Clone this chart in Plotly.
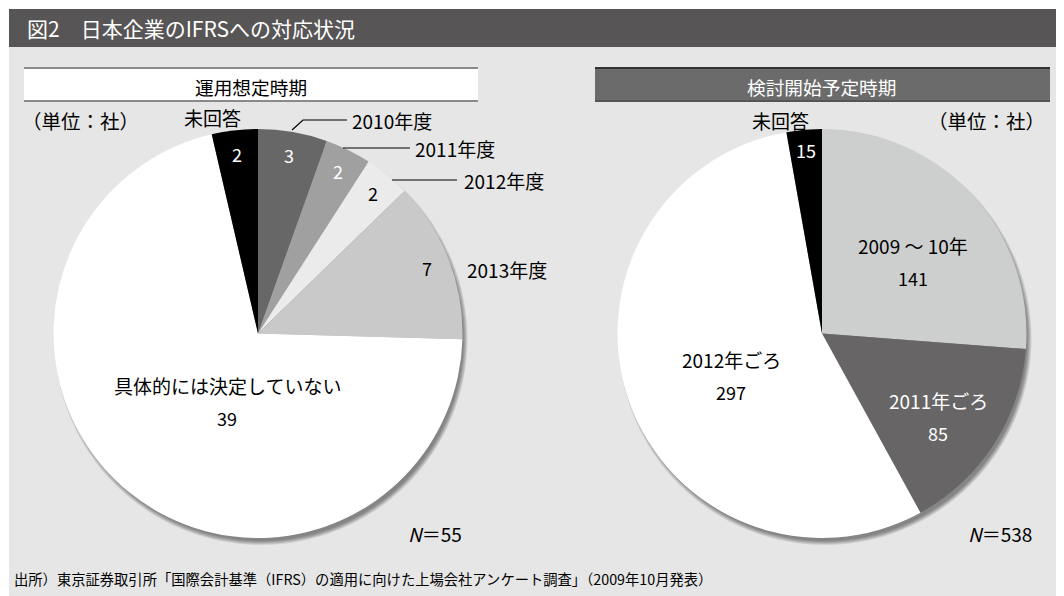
import math
import plotly.graph_objects as go

# the page body keeps its 8px margin, so the figure is drawn 8px in from the top-left
OFF = 8
W, H = 1064 - OFF, 596 - OFF
FONT = "Noto Sans CJK JP"

# data
labels_l = ["2010年度", "2011年度", "2012年度", "2013年度", "具体的には決定していない", "未回答"]
values_l = [3, 2, 2, 7, 39, 2]
colors_l = ["#676767", "#a0a0a0", "#ebebeb", "#c8c9c8", "#ffffff", "#000000"]
textcol_l = ["white", "white", "black", "black", "black", "white"]

labels_r = ["2009 〜 10年", "2011年ごろ", "2012年ごろ", "未回答"]
values_r = [141, 85, 297, 15]
colors_r = ["#cdcfce", "#676566", "#ffffff", "#000000"]
textcol_r = ["black", "white", "black", "white"]

title = "図2　日本企業のIFRSへの対応状況"
sub_l = "運用想定時期"
sub_r = "検討開始予定時期"
unit = "（単位：社）"
source = "出所）東京証券取引所「国際会計基準（IFRS）の適用に向けた上場会社アンケート調査」（2009年10月発表）"


def px(x):
    return (x - OFF) / W


def py(y):
    return 1 - (y - OFF) / H


def domain(cx, cy, r):
    return dict(x=[px(cx - r), px(cx + r)], y=[py(cy + r), py(cy - r)])


def slice_pos(values, i, cx, cy, r, rf):
    total = sum(values)
    a = 2 * math.pi * (sum(values[:i]) + values[i] / 2) / total
    return cx + rf * r * math.sin(a), cy - rf * r * math.cos(a)


def txt(fig, x, y, text, size=19, color="black", xanchor="center"):
    fig.add_annotation(x=px(x), y=py(y), xref="paper", yref="paper", text=text,
                       showarrow=False, xanchor=xanchor, yanchor="middle",
                       font=dict(family=FONT, size=size, color=color))


def rect(fig, x0, y0, x1, y1, fill, layer="below"):
    fig.add_shape(type="rect", xref="paper", yref="paper",
                  x0=px(x0), y0=py(y1), x1=px(x1), y1=py(y0), fillcolor=fill,
                  line=dict(width=0), layer=layer)


def shadow(fig, cx, cy, r):
    # soft drop shadow to the lower right
    for k in range(5):
        rr = r - 2 + k
        fig.add_shape(type="circle", xref="paper", yref="paper",
                      x0=px(cx + 3 - rr), x1=px(cx + 3 + rr),
                      y0=py(cy + 5 + rr), y1=py(cy + 5 - rr),
                      fillcolor="rgba(0,0,0,0.1)", line_width=0, layer="below")


CL, CR, CY, R = 258, 822, 333.5, 204.5

fig = go.Figure()
fig.add_trace(go.Pie(labels=labels_l, values=values_l, sort=False, direction="clockwise",
                     rotation=0, marker=dict(colors=colors_l, line=dict(width=0)),
                     textinfo="none", hoverinfo="label+value", domain=domain(CL, CY, R),
                     showlegend=False))
fig.add_trace(go.Pie(labels=labels_r, values=values_r, sort=False, direction="clockwise",
                     rotation=0, marker=dict(colors=colors_r, line=dict(width=0)),
                     textinfo="none", hoverinfo="label+value", domain=domain(CR, CY, R),
                     showlegend=False))

# backgrounds
rect(fig, 9, 47, 1064, 596, "#e6e6e6")
rect(fig, 9, 9, 1064, 47, "#575555")
rect(fig, 24, 68, 478, 102, "#ffffff")
rect(fig, 24, 67, 478, 69, "#8a8a8a")
rect(fig, 24, 100, 478, 102, "#8a8a8a")
rect(fig, 595, 68, 1050, 102, "#6b6b6b")
rect(fig, 595, 67, 1050, 69, "#333333")
rect(fig, 595, 100, 1050, 102, "#555555")
shadow(fig, CL, CY, R)
shadow(fig, CR, CY, R)

txt(fig, 25, 28, title, size=21, color="white", xanchor="left")
txt(fig, 251, 86, sub_l, size=18.7)
txt(fig, 822, 86, sub_r, size=18.7, color="white")
txt(fig, 80, 120, unit, size=19.5)
txt(fig, 986, 120, unit, size=19.5)

# left pie labels
for i in [0, 1, 2, 3, 5]:
    x, y = slice_pos(values_l, i, CL, CY, R, 0.885)
    txt(fig, x, y, str(values_l[i]), size=18, color=textcol_l[i])
txt(fig, 227, 385, labels_l[4])
txt(fig, 227, 418, str(values_l[4]), size=18)
txt(fig, 212, 118, labels_l[5])

outside = {0: (350, 120), 1: (413, 148), 2: (462, 180), 3: (465, 270)}
for i, (x, y) in outside.items():
    txt(fig, x, y, labels_l[i], xanchor="left")

leaders = [[(292, 130), (303, 120), (347, 120)],
           [(343, 148), (410, 148)],
           [(392, 180), (457, 180)]]
for pts in leaders:
    path = "M " + " L ".join(f"{px(x)},{py(y)}" for x, y in pts)
    fig.add_shape(type="path", xref="paper", yref="paper", path=path,
                  line=dict(color="black", width=1.2))

# right pie labels
big_r = {0: ((913, 245), (913, 278)), 1: ((938, 400), (938, 433)), 2: ((731, 359), (731, 392))}
for i, ((lx, ly), (vx, vy)) in big_r.items():
    txt(fig, lx, ly, labels_r[i], color=textcol_r[i])
    txt(fig, vx, vy, str(values_r[i]), size=18, color=textcol_r[i])
x, y = slice_pos(values_r, 3, CR, CY, R, 0.9)
txt(fig, x, y, str(values_r[3]), size=18, color=textcol_r[3])
txt(fig, 780, 120, labels_r[3])

txt(fig, 435, 533, f"<i>N</i>＝{sum(values_l)}")
txt(fig, 1000, 533, f"<i>N</i>＝{sum(values_r)}")

txt(fig, 12, 578, source, size=14.3, xanchor="left")

fig.update_layout(width=W, height=H, margin=dict(l=0, r=0, t=0, b=0),
                  paper_bgcolor="white", plot_bgcolor="white")
fig.write_html("out.html")
